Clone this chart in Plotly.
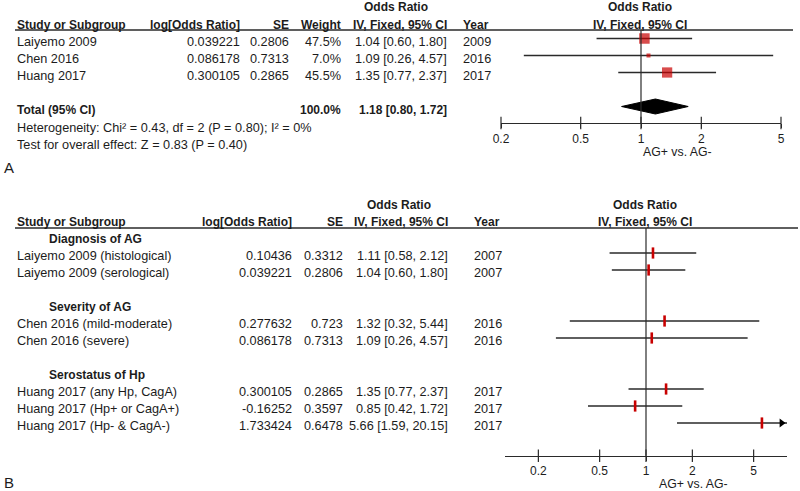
import math
import plotly.graph_objects as go

# ---------------- Panel A data ----------------
a_studies = ["Laiyemo 2009", "Chen 2016", "Huang 2017"]
a_logor = [0.039221, 0.086178, 0.300105]
a_se = [0.2806, 0.7313, 0.2865]
a_weight = [47.5, 7.0, 45.5]
a_or = [1.04, 1.09, 1.35]
a_lo = [0.60, 0.26, 0.77]
a_hi = [1.80, 4.57, 2.37]
a_year = [2009, 2016, 2017]
a_total = {"weight": 100.0, "or": 1.18, "lo": 0.80, "hi": 1.72}
a_het = "Heterogeneity: Chi² = 0.43, df = 2 (P = 0.80); I² = 0%"
a_test = "Test for overall effect: Z = 0.83 (P = 0.40)"

# ---------------- Panel B data ----------------
b_groups = ["Diagnosis of AG", "Severity of AG", "Serostatus of Hp"]
b_group_of = [0, 0, 1, 1, 2, 2, 2]
b_studies = ["Laiyemo 2009 (histological)", "Laiyemo 2009 (serological)",
             "Chen 2016 (mild-moderate)", "Chen 2016 (severe)",
             "Huang 2017 (any Hp, CagA)", "Huang 2017 (Hp+ or CagA+)",
             "Huang 2017 (Hp- & CagA-)"]
b_logor = [0.10436, 0.039221, 0.277632, 0.086178, 0.300105, -0.16252, 1.733424]
b_se = [0.3312, 0.2806, 0.723, 0.7313, 0.2865, 0.3597, 0.6478]
b_or = [1.11, 1.04, 1.32, 1.09, 1.35, 0.85, 5.66]
b_lo = [0.58, 0.60, 0.32, 0.26, 0.77, 0.42, 1.59]
b_hi = [2.12, 1.80, 5.44, 4.57, 2.37, 1.72, 20.15]
b_year = [2007, 2007, 2016, 2016, 2017, 2017, 2017]

tick_vals = [0.2, 0.5, 1, 2, 5]
tick_text = ["0.2", "0.5", "1", "2", "5"]
axis_label = "AG+ vs. AG-"

# ---------------- style / layout ----------------
W, H = 800, 491
FONT = "Liberation Sans, Arial, sans-serif"
TXT = "#1c1c1c"
LINE = "#2a2a2a"
RED = "#c80000"
REG = 12.7
BOLD = 12
ROW = 17

A_RANGE = [math.log10(0.2), math.log10(5)]
B_RANGE = [-0.9156, 0.9156]
A_AXIS_Y = 123
B_AXIS_Y = 455.7

fig = go.Figure()
ann = []


def txt(xpx, ypx, s, anchor="left", bold=False, size=None):
    if size is None:
        size = BOLD if bold else REG
    ann.append(dict(x=xpx / W, xref="paper", y=ypx, yref="y",
                    text=("<b>%s</b>" % s) if bold else s, showarrow=False,
                    xanchor=anchor, yanchor="middle", borderpad=0,
                    font=dict(family=FONT, size=size, color=TXT)))


def ci(o, l, h):
    return "%.2f [%.2f, %.2f]" % (o, l, h)


# ================= Panel A =================
a_y0 = 38.5
a_rows = [a_y0 + ROW * i for i in range(len(a_studies))]
a_total_y = a_y0 + ROW * 4
toff = 3

txt(396, 7, "Odds Ratio", "center", True)
txt(640, 7, "Odds Ratio", "center", True)
txt(16, 25, "Study or Subgroup", "left", True)
txt(241, 25, "log[Odds Ratio]", "right", True)
txt(290, 25, "SE", "right", True)
txt(342, 25, "Weight", "right", True)
txt(448, 25, "IV, Fixed, 95% CI", "right", True)
txt(462, 25, "Year", "left", True)
txt(640, 25, "IV, Fixed, 95% CI", "center", True)

for i, y in enumerate(a_rows):
    ty = y + toff
    txt(16, ty, a_studies[i])
    txt(241, ty, str(a_logor[i]), "right")
    txt(290, ty, str(a_se[i]), "right")
    txt(342, ty, "%.1f%%" % a_weight[i], "right")
    txt(448, ty, ci(a_or[i], a_lo[i], a_hi[i]), "right")
    txt(462, ty, str(a_year[i]))

txt(16, a_total_y + toff, "Total (95% CI)", "left", True)
txt(342, a_total_y + toff, "%.1f%%" % a_total["weight"], "right", True)
txt(448, a_total_y + toff, ci(a_total["or"], a_total["lo"], a_total["hi"]), "right", True)
txt(16, 127.5, a_het)
txt(16, 144.5, a_test)
txt(3, 167.5, "A", "left", False, 15)
txt(677, 151.5, axis_label, "center", False, 12.3)

# CI lines A
xs, ys = [], []
for i, y in enumerate(a_rows):
    xs += [a_lo[i], a_hi[i], None]
    ys += [y, y, None]
fig.add_trace(go.Scatter(x=xs, y=ys, xaxis="x", yaxis="y", mode="lines",
                         line=dict(color=LINE, width=1.3), hoverinfo="skip"))
# weighted squares
fig.add_trace(go.Scatter(x=a_or, y=a_rows, xaxis="x", yaxis="y", mode="markers",
                         marker=dict(symbol="square", color=RED,
                                     size=[1.52 * math.sqrt(w) for w in a_weight],
                                     line=dict(width=0)), hoverinfo="skip"))
# diamond
fig.add_trace(go.Scatter(x=[a_total["lo"], a_total["or"], a_total["hi"], a_total["or"], a_total["lo"]],
                         y=[a_total_y, a_total_y - 7.5, a_total_y, a_total_y + 7.5, a_total_y],
                         xaxis="x", yaxis="y", mode="lines", fill="toself",
                         fillcolor="#000000", line=dict(color="#000000", width=1),
                         hoverinfo="skip"))
# crossing ticks A
fig.add_trace(go.Scatter(x=tick_vals, y=[A_AXIS_Y] * len(tick_vals), xaxis="x", yaxis="y",
                         mode="markers", cliponaxis=False,
                         marker=dict(symbol="line-ns", size=9, line=dict(color=LINE, width=1.2)),
                         hoverinfo="skip"))

# ================= Panel B =================
b_y0 = 236
b_rows = []
b_head_rows = []
r = 0
for g in range(len(b_groups)):
    b_head_rows.append(b_y0 + ROW * r)
    r += 1
    for i, gi in enumerate(b_group_of):
        if gi == g:
            b_rows.append(b_y0 + ROW * r)
            r += 1
    r += 1

txt(399, 205, "Odds Ratio", "center", True)
txt(645, 205, "Odds Ratio", "center", True)
txt(16, 222, "Study or Subgroup", "left", True)
txt(293, 222, "log[Odds Ratio]", "right", True)
txt(344, 222, "SE", "right", True)
txt(449, 222, "IV, Fixed, 95% CI", "right", True)
txt(473, 222, "Year", "left", True)
txt(645, 222, "IV, Fixed, 95% CI", "center", True)

for g, y in enumerate(b_head_rows):
    txt(48, y + toff, b_groups[g], "left", True)
for i, y in enumerate(b_rows):
    ty = y + toff
    txt(16, ty, b_studies[i])
    txt(293, ty, str(b_logor[i]), "right")
    txt(344, ty, str(b_se[i]), "right")
    txt(449, ty, ci(b_or[i], b_lo[i], b_hi[i]), "right")
    txt(473, ty, str(b_year[i]))
txt(3, 482, "B", "left", False, 15)
txt(693, 483.5, axis_label, "center", False, 12.3)

xs, ys = [], []
for i, y in enumerate(b_rows):
    xs += [b_lo[i], b_hi[i], None]
    ys += [y, y, None]
fig.add_trace(go.Scatter(x=xs, y=ys, xaxis="x2", yaxis="y", mode="lines",
                         line=dict(color=LINE, width=1.4), hoverinfo="skip"))
fig.add_trace(go.Scatter(x=b_or, y=b_rows, xaxis="x2", yaxis="y", mode="markers",
                         marker=dict(symbol="line-ns", size=8, line=dict(color=RED, width=2.6)),
                         hoverinfo="skip"))
# arrows for CIs beyond the axis
arr_x, arr_y = [], []
for i, y in enumerate(b_rows):
    if math.log10(b_hi[i]) > B_RANGE[1]:
        arr_x.append(10 ** (B_RANGE[1] - 0.035))
        arr_y.append(y)
fig.add_trace(go.Scatter(x=arr_x, y=arr_y, xaxis="x2", yaxis="y", mode="markers",
                         cliponaxis=False,
                         marker=dict(symbol="triangle-right", size=8, color="#000000"),
                         hoverinfo="skip"))
fig.add_trace(go.Scatter(x=tick_vals, y=[B_AXIS_Y] * len(tick_vals), xaxis="x2", yaxis="y",
                         mode="markers", cliponaxis=False,
                         marker=dict(symbol="line-ns", size=9, line=dict(color=LINE, width=1.2)),
                         hoverinfo="skip"))

# ---------------- shapes: header rules and null lines ----------------
shapes = [
    dict(type="line", xref="paper", yref="y", x0=15 / W, x1=793 / W, y0=30, y1=30,
         line=dict(color=LINE, width=1.3)),
    dict(type="line", xref="paper", yref="y", x0=15 / W, x1=798 / W, y0=228, y1=228,
         line=dict(color=LINE, width=1.3)),
    dict(type="line", xref="x", yref="y", x0=1, x1=1, y0=30, y1=A_AXIS_Y,
         line=dict(color=LINE, width=1.2)),
    dict(type="line", xref="x2", yref="y", x0=1, x1=1, y0=228, y1=B_AXIS_Y,
         line=dict(color=LINE, width=1.2)),
]

axis_common = dict(type="log", anchor="free", showline=True, linecolor=LINE, linewidth=1.2,
                   ticks="outside", ticklen=4, tickwidth=1.2, tickcolor=LINE,
                   tickvals=tick_vals, ticktext=tick_text, showgrid=False, zeroline=False,
                   tickfont=dict(family=FONT, size=12, color=TXT), fixedrange=True,
                   automargin=False)

fig.update_layout(
    width=W, height=H, margin=dict(l=0, r=0, t=0, b=0, autoexpand=False),
    paper_bgcolor="white", plot_bgcolor="rgba(0,0,0,0)", showlegend=False,
    xaxis=dict(domain=[501 / W, 781 / W], range=A_RANGE,
               position=1 - A_AXIS_Y / H, **axis_common),
    xaxis2=dict(domain=[505 / W, 787 / W], range=B_RANGE,
                position=1 - B_AXIS_Y / H, **axis_common),
    yaxis=dict(domain=[0, 1], range=[H, 0], visible=False, fixedrange=True),
    annotations=ann, shapes=shapes,
)

fig.write_html("out.html", config={"displayModeBar": False},
               post_script="document.body.style.margin='0';document.body.style.padding='0';")
